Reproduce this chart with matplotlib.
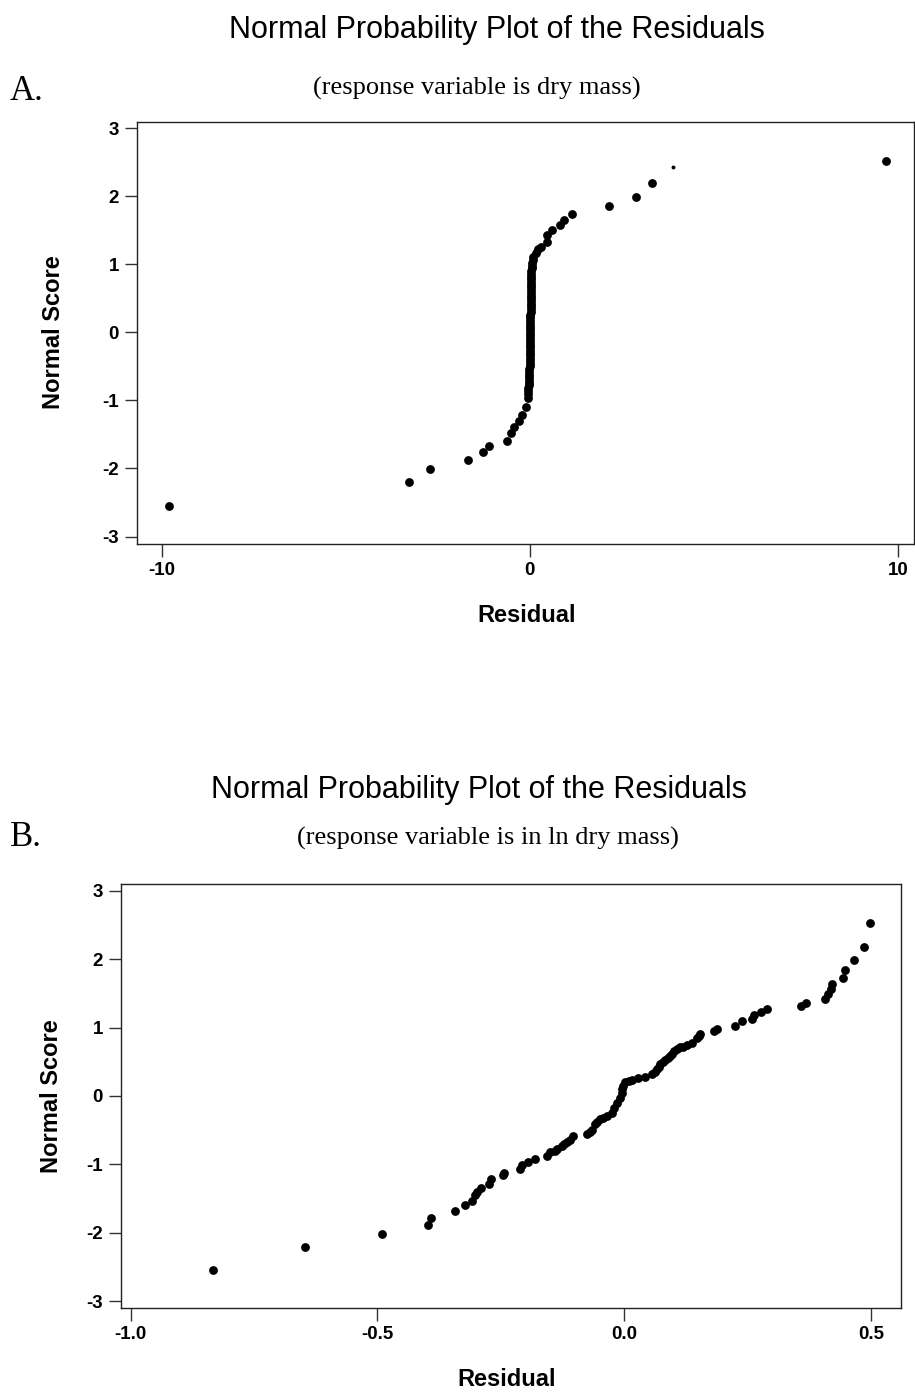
import matplotlib
matplotlib.use("Agg")
import matplotlib.pyplot as plt

# ---------------- Data: panel A (response = dry mass) ----------------
resid_a = [-9.80, -3.27, -2.72, -1.68, -1.28, -1.12, -0.63, -0.52, -0.43, -0.29,
           -0.22, -0.11, -0.04,
           -0.05, -0.04, -0.04, -0.03, -0.03, -0.02, -0.02, -0.01, -0.01, -0.01,
           0.00, 0.00, 0.00, 0.00, 0.01, 0.01, 0.01, 0.01, 0.01, 0.01,
           0.02, 0.02, 0.02, 0.02, 0.02, 0.02, 0.02, 0.02, 0.02, 0.02,
           0.03, 0.03, 0.03, 0.03, 0.03, 0.03, 0.03, 0.03, 0.03, 0.03,
           0.03, 0.03, 0.04, 0.04, 0.04, 0.04, 0.05, 0.06, 0.07, 0.08, 0.10,
           0.16, 0.22, 0.30, 0.46, 0.48, 0.61, 0.83, 0.92, 1.14, 2.15, 2.89, 3.31, 9.68]
score_a = [-2.55, -2.20, -2.01, -1.87, -1.76, -1.67, -1.59, -1.48, -1.39, -1.31,
           -1.21, -1.09, -0.97,
           -0.90, -0.86, -0.82, -0.78, -0.74, -0.70, -0.66, -0.62, -0.58, -0.54,
           -0.50, -0.46, -0.42, -0.38, -0.34, -0.30, -0.26, -0.22, -0.18, -0.14,
           -0.10, -0.06, -0.02, 0.02, 0.06, 0.10, 0.14, 0.18, 0.22, 0.26,
           0.30, 0.34, 0.38, 0.42, 0.46, 0.50, 0.54, 0.58, 0.62, 0.66,
           0.70, 0.74, 0.78, 0.82, 0.86, 0.90, 0.94, 0.98, 1.02, 1.06, 1.10,
           1.16, 1.22, 1.26, 1.33, 1.43, 1.50, 1.57, 1.65, 1.74, 1.85, 1.99, 2.19, 2.52]
# faint partial dot
resid_a_faint = [3.88]
score_a_faint = [2.43]

# ---------------- Data: panel B (response = ln dry mass) ----------------
resid_b = [-0.834, -0.646, -0.490, -0.398, -0.391, -0.342, -0.322, -0.309, -0.302, -0.299,
           -0.290, -0.274, -0.269, -0.246, -0.244, -0.212, -0.208, -0.194, -0.180, -0.157,
           -0.151, -0.141, -0.136, -0.126, -0.121, -0.116, -0.110, -0.103, -0.076, -0.070,
           -0.065, -0.059, -0.055, -0.050, -0.042, -0.035, -0.025, -0.020, -0.015, -0.008,
           -0.005, -0.004, -0.003, 0.002, 0.009, 0.016, 0.029, 0.043, 0.056, 0.062,
           0.066, 0.070, 0.073, 0.078, 0.083, 0.088, 0.093, 0.097, 0.100, 0.107,
           0.113, 0.120, 0.127, 0.137, 0.147, 0.151, 0.154, 0.181, 0.188, 0.225,
           0.239, 0.259, 0.262, 0.277, 0.290, 0.359, 0.369, 0.406, 0.413, 0.418,
           0.421, 0.443, 0.447, 0.465, 0.485, 0.499]
score_b = [-2.55, -2.21, -2.02, -1.88, -1.78, -1.68, -1.60, -1.53, -1.45, -1.40,
           -1.35, -1.28, -1.21, -1.15, -1.12, -1.07, -1.01, -0.97, -0.92, -0.88,
           -0.82, -0.80, -0.78, -0.73, -0.70, -0.67, -0.64, -0.59, -0.56, -0.52,
           -0.49, -0.41, -0.38, -0.34, -0.32, -0.30, -0.25, -0.17, -0.10, -0.03,
           0.05, 0.10, 0.15, 0.20, 0.22, 0.24, 0.26, 0.28, 0.32, 0.35,
           0.39, 0.42, 0.46, 0.49, 0.52, 0.55, 0.58, 0.62, 0.66, 0.69,
           0.71, 0.72, 0.74, 0.78, 0.84, 0.87, 0.90, 0.95, 0.98, 1.02,
           1.10, 1.13, 1.18, 1.22, 1.27, 1.31, 1.36, 1.42, 1.49, 1.56,
           1.64, 1.73, 1.84, 1.98, 2.17, 2.52]

xticks_a = [-10, 0, 10]
xticks_b = [-1.0, -0.5, 0.0, 0.5]
xticklabels_b = ["-1.0", "-0.5", "0.0", "0.5"]
yticks = [-3, -2, -1, 0, 1, 2, 3]

title_text = "Normal Probability Plot of the Residuals"
sub_a = "(response variable is dry mass)"
sub_b = "(response variable is in ln dry mass)"

# ---------------- Figure ----------------
W, H = 915, 1393
fig = plt.figure(figsize=(W / 100, H / 100), dpi=100)
fig.patch.set_facecolor("white")

sans = ["Liberation Sans", "DejaVu Sans"]
serif = ["Liberation Serif", "DejaVu Serif"]


def px_axes(l, t, r, b):
    return fig.add_axes([l / W, 1 - b / H, (r - l) / W, (b - t) / H])


def style(ax):
    for s in ax.spines.values():
        s.set_linewidth(1.0)
        s.set_color("#222222")
    ax.tick_params(axis="both", direction="out", length=9, width=1.0, color="#333333",
                   pad=4)
    ax.set_yticks(yticks)
    ax.set_yticklabels([str(v) for v in yticks])
    for lab in ax.get_xticklabels() + ax.get_yticklabels():
        lab.set_fontfamily(sans)
        lab.set_fontweight("bold")
        lab.set_fontsize(13.5)


DOT = 40

# Panel A
axA = px_axes(137, 122, 914, 544)
axA.scatter(resid_a, score_a, s=DOT, color="black", linewidths=0, zorder=3)
axA.scatter(resid_a_faint, score_a_faint, s=8, color="black", linewidths=0, zorder=3)
axA.set_xlim(-10.67, 10.44)
axA.set_ylim(-3.11, 3.09)
axA.set_xticks(xticks_a)
axA.set_xticklabels([str(v) for v in xticks_a])
style(axA)
axA.set_xlabel("Residual", fontfamily=sans, fontweight="bold", fontsize=17)
axA.set_ylabel("Normal Score", fontfamily=sans, fontweight="bold", fontsize=17)
axA.xaxis.set_label_coords((527 - 137) / 777, (544 - 615) / 422)
axA.yaxis.set_label_coords((54 - 137) / 777, (544 - 332) / 422)
axA.xaxis.label.set_va("center")
axA.yaxis.label.set_va("center")

# Panel B
axB = px_axes(121, 884, 901, 1308)
axB.scatter(resid_b, score_b, s=DOT, color="black", linewidths=0, zorder=3)
axB.set_xlim(-1.0194, 0.5608)
axB.set_ylim(-3.098, 3.097)
axB.set_xticks(xticks_b)
axB.set_xticklabels(xticklabels_b)
style(axB)
axB.set_xlabel("Residual", fontfamily=sans, fontweight="bold", fontsize=17)
axB.set_ylabel("Normal Score", fontfamily=sans, fontweight="bold", fontsize=17)
axB.xaxis.set_label_coords((507 - 121) / 780, (1308 - 1380) / 424)
axB.yaxis.set_label_coords((52 - 121) / 780, (1308 - 1096) / 424)
axB.xaxis.label.set_va("center")
axB.yaxis.label.set_va("center")

# Titles and annotations
fig.text(497 / W, 1 - 30 / H, title_text, ha="center", va="center",
         fontfamily=sans, fontsize=22)
fig.text(477 / W, 1 - 88 / H, sub_a, ha="center", va="center",
         fontfamily=serif, fontsize=19)
fig.text(10 / W, 1 - 92 / H, "A.", ha="left", va="center",
         fontfamily=serif, fontsize=25)

fig.text(479 / W, 1 - 790 / H, title_text, ha="center", va="center",
         fontfamily=sans, fontsize=22)
fig.text(488 / W, 1 - 838 / H, sub_b, ha="center", va="center",
         fontfamily=serif, fontsize=19)
fig.text(10 / W, 1 - 838 / H, "B.", ha="left", va="center",
         fontfamily=serif, fontsize=25)

fig.savefig("out.png", dpi=100, facecolor="white")
